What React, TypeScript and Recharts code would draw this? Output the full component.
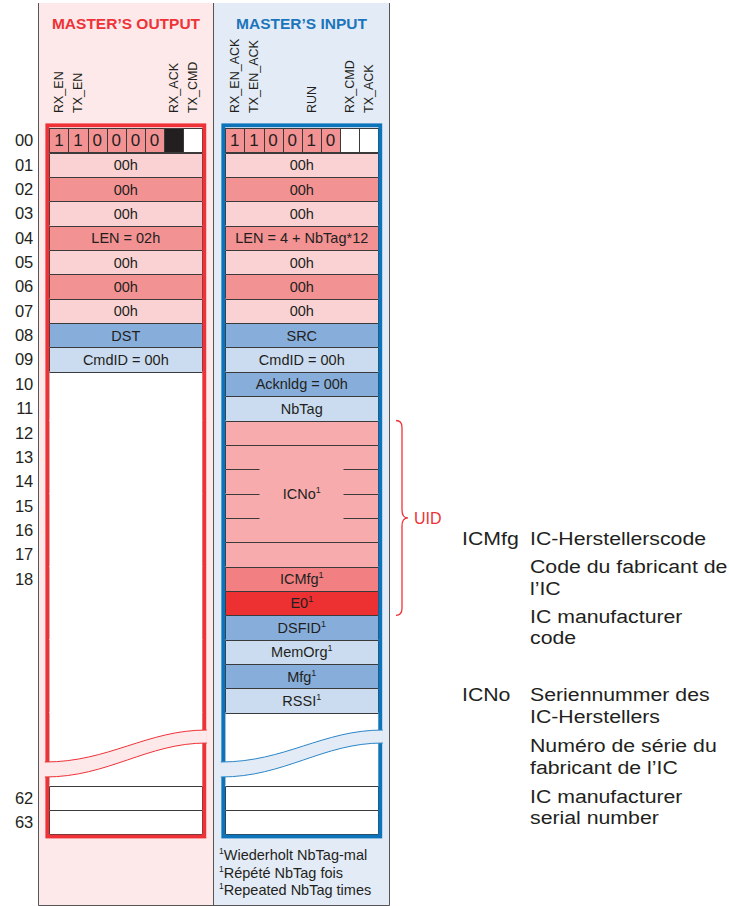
import { Bar, BarChart, XAxis, YAxis } from "recharts";

const FONT = '"Liberation Sans", Arial, Helvetica, sans-serif';
const INK = "#231f20";
const LINE = "#3a3a3a";

// byte rows, three filler rows stand for the break between 23 and 62
const rows = [
  "00", "01", "02", "03", "04", "05", "06", "07", "08", "09",
  "10", "11", "12", "13", "14", "15", "16", "17", "18", "19",
  "20", "21", "22", "23", "g1", "g2", "g3", "62", "63"
];
const shownTicks = [
  "00", "01", "02", "03", "04", "05", "06", "07", "08", "09",
  "10", "11", "12", "13", "14", "15", "16", "17", "18", "62", "63"
];

const outputText = [
  "", "00h", "00h", "00h", "LEN = 02h", "00h", "00h", "00h", "DST", "CmdID = 00h",
  "", "", "", "", "", "", "", "", "", "",
  "", "", "", "", "", "", "", "", ""
];
const outputKind = [
  "bits", "light", "mid", "light", "mid", "light", "mid", "light", "blueMid", "blueLight",
  "blank", "blank", "blank", "blank", "blank", "blank", "blank", "blank", "blank", "blank",
  "blank", "blank", "blank", "blank", "blank", "blank", "blank", "empty", "empty"
];

// ICNo spans rows 13-16, its label sits on the top edge of row 15
const inputText = [
  "", "00h", "00h", "00h", "LEN = 4 + NbTag*12", "00h", "00h", "00h", "SRC", "CmdID = 00h",
  "Acknldg = 00h", "NbTag", "", "", "", "ICNo", "", "", "ICMfg", "E0",
  "DSFID", "MemOrg", "Mfg", "RSSI", "", "", "", "", ""
];
const inputKind = [
  "bits", "light", "mid", "light", "mid", "light", "mid", "light", "blueMid", "blueLight",
  "blueMid", "blueLight", "icno", "icnoMerge", "icnoMerge", "icnoMerge", "icnoMerge", "icno", "icmfg", "e0",
  "blueMid", "blueLight", "blueMid", "blueLight", "blank", "blank", "blank", "empty", "empty"
];
const inputRepeated = [15, 18, 19, 20, 21, 22, 23];

const outputBits = ["1", "1", "0", "0", "0", "0", "", ""];
const outputBitKind = ["mid", "mid", "mid", "mid", "mid", "mid", "black", "empty"];
const outputBitName = ["RX_EN", "TX_EN", "", "", "", "", "RX_ACK", "TX_CMD"];

const inputBits = ["1", "1", "0", "0", "1", "0", "", ""];
const inputBitKind = ["mid", "mid", "mid", "mid", "mid", "mid", "empty", "empty"];
const inputBitName = ["RX_EN_ACK", "TX_EN_ACK", "", "", "RUN", "", "RX_CMD", "TX_ACK"];

const fills: Record<string, string> = {
  light: "#fad2d3",
  mid: "#f39293",
  blueMid: "#87aedb",
  blueLight: "#cbdcf0",
  icno: "#f7abad",
  icnoMerge: "#f7abad",
  icmfg: "#f27f81",
  e0: "#ed3133",
  blank: "#ffffff",
  empty: "#ffffff",
  black: INK
};

const COLUMN = 8;
const GAP = 1.2;
const TOTAL = COLUMN * 2 + GAP;

const W = 729;
const H = 906;
const MARGIN = { top: 128.3, right: 350.7, bottom: 71.5, left: 9.3 };
const Y_WIDTH = 40;
const PLOT_LEFT = MARGIN.left + Y_WIDTH;
const PLOT_W = W - MARGIN.right - PLOT_LEFT;
const UNIT = PLOT_W / TOTAL;
const PLOT_TOP = MARGIN.top;
const PLOT_BOTTOM = H - MARGIN.bottom;
const ROW_H = (PLOT_BOTTOM - PLOT_TOP) / rows.length;

const RED = "#ee3237";
const BLUE = "#0b74bb";

const data = rows.map((row, idx) => {
  const d: Record<string, any> = { row, idx, mid: GAP };
  for (let b = 0; b < 8; b++) {
    d[`o${b}`] = idx === 0 ? 1 : b === 0 ? COLUMN : 0;
    d[`i${b}`] = idx === 0 ? 1 : b === 0 ? COLUMN : 0;
  }
  return d;
});

const snap = (v: number) => Math.round(v) + 0.5;
const boxLike = (k?: string) => !!k && k !== "blank" && k !== "icnoMerge";

function cellShape(side: "o" | "i", bit: number) {
  const kinds = side === "o" ? outputKind : inputKind;
  const texts = side === "o" ? outputText : inputText;
  const bits = side === "o" ? outputBits : inputBits;
  const bitKinds = side === "o" ? outputBitKind : inputBitKind;
  const bitNames = side === "o" ? outputBitName : inputBitName;

  return (props: any) => {
    const { x, y, width, height, payload } = props;
    if (!width || width < 0.5) return <g />;
    const i = payload.idx;
    const x0 = snap(x);
    const x1 = snap(x + width);
    const y0 = snap(y);
    const y1 = snap(y + height);

    if (i === 0) {
      return (
        <g>
          <rect x={x0} y={y0} width={x1 - x0} height={y1 - y0} fill={fills[bitKinds[bit]]} stroke={LINE} strokeWidth={1} />
          {bits[bit] && (
            <text x={x + width / 2} y={y + height / 2 + 6} textAnchor="middle" fontSize={17} fontFamily={FONT} fill={INK}>
              {bits[bit]}
            </text>
          )}
          {bitNames[bit] && (
            <text
              transform={`translate(${x + width / 2 + 4.5}, 113) rotate(-90)`}
              fontSize={12.5}
              fontFamily={FONT}
              fill={INK}
            >
              {bitNames[bit]}
            </text>
          )}
        </g>
      );
    }

    const kind = kinds[i];
    const prev = kinds[i - 1];
    let top = "none";
    if (kind === "icnoMerge" && prev === "icnoMerge") top = "stub";
    else if (boxLike(kind) || kind === "icnoMerge" || boxLike(prev)) top = "full";
    const dotted = kind === "blank";
    const last = i === rows.length - 1;
    const text = texts[i];
    const repeated = side === "i" && inputRepeated.includes(i);
    const textY = kind === "icnoMerge" ? y + 5.5 : y + height / 2 + 5.5;

    return (
      <g>
        <rect x={Math.round(x)} y={Math.round(y)} width={Math.round(x + width) - Math.round(x) + 1} height={Math.round(y + height) - Math.round(y) + 1} fill={fills[kind]} />
        <line x1={x0} x2={x0} y1={y0} y2={y1} stroke={dotted ? "#9a9a9a" : LINE} strokeDasharray={dotted ? "1 1" : undefined} />
        <line x1={x1} x2={x1} y1={y0} y2={y1} stroke={dotted ? "#9a9a9a" : LINE} strokeDasharray={dotted ? "1 1" : undefined} />
        {top === "full" && <line x1={x0} x2={x1} y1={y0} y2={y0} stroke={LINE} />}
        {top === "stub" && (
          <g>
            <line x1={x0} x2={x0 + 34} y1={y0} y2={y0} stroke={LINE} />
            <line x1={x1 - 35} x2={x1} y1={y0} y2={y0} stroke={LINE} />
          </g>
        )}
        {last && <line x1={x0} x2={x1} y1={y1} y2={y1} stroke={LINE} />}
        {text && (
          <text x={x + width / 2} y={textY} textAnchor="middle" fontSize={14.5} fontFamily={FONT} fill={INK}>
            {text}
            {repeated && (
              <tspan fontSize={9} dy={-6}>
                1
              </tspan>
            )}
          </text>
        )}
      </g>
    );
  };
}

const rowTop = (i: number) => PLOT_TOP + i * ROW_H;
const outLeft = PLOT_LEFT;
const outRight = PLOT_LEFT + COLUMN * UNIT;
const inLeft = PLOT_LEFT + (COLUMN + GAP) * UNIT;
const inRight = PLOT_LEFT + TOTAL * UNIT;

function Wave({ left, right, fill, stroke }: { left: number; right: number; fill: string; stroke: string }) {
  const xl = left - 4.5;
  const xr = right + 4.5;
  const upper = `M${xl},762 C${xl + 64},762 ${xr - 60},730 ${xr},730`;
  const lower = `M${xr},743 C${xr - 60},743 ${xl + 64},777 ${xl},777`;
  return (
    <g>
      <path d={`${upper} L${xr},743 C${xr - 60},743 ${xl + 64},777 ${xl},777 Z`} fill={fill} />
      <path d={upper} fill="none" stroke={stroke} strokeWidth={1} />
      <path d={lower} fill="none" stroke={stroke} strokeWidth={1} />
    </g>
  );
}

const legendLines = [
  { x: 462, y: 545, t: "ICMfg" },
  { x: 530, y: 545, t: "IC-Herstellerscode" },
  { x: 530, y: 573, t: "Code du fabricant de" },
  { x: 530, y: 595, t: "l’IC" },
  { x: 530, y: 623, t: "IC manufacturer" },
  { x: 530, y: 644, t: "code" },
  { x: 462, y: 701, t: "ICNo" },
  { x: 530, y: 701, t: "Seriennummer des" },
  { x: 530, y: 723, t: "IC-Herstellers" },
  { x: 530, y: 752, t: "Numéro de série du" },
  { x: 530, y: 774, t: "fabricant de l’IC" },
  { x: 530, y: 803, t: "IC manufacturer" },
  { x: 530, y: 824, t: "serial number" }
];

const footnotes = ["Wiederholt NbTag-mal", "Répété NbTag fois", "Repeated NbTag times"];

export default function App() {
  const braceTop = rowTop(12);
  const braceBottom = rowTop(20);
  const braceMid = (braceTop + braceBottom) / 2;

  return (
    <div style={{ position: "absolute", left: 0, top: 0, width: W, height: H, background: "#fff", overflow: "hidden" }}>
      <svg width={W} height={H} style={{ position: "absolute", left: 0, top: 0 }}>
        <rect x={38.5} y={3} width={175} height={902} fill="#fde9e9" />
        <rect x={213.5} y={3} width={176} height={902} fill="#e3ebf6" />
        <path d="M38.5,3 V905.5 H389.5 V3 M213.5,3 V905.5" fill="none" stroke="#555" strokeWidth={1} />
        <text x={126} y={29} textAnchor="middle" fontWeight="bold" fontSize={15.5} fontFamily={FONT} fill={RED}>
          MASTER’S OUTPUT
        </text>
        <text x={301.5} y={29} textAnchor="middle" fontWeight="bold" fontSize={15.5} fontFamily={FONT} fill="#1b75bc">
          MASTER’S INPUT
        </text>
        {footnotes.map((t, k) => (
          <text key={t} x={219} y={860 + k * 17.5} fontSize={14.5} fontFamily={FONT} fill={INK}>
            <tspan fontSize={8.5} dy={-6}>1</tspan>
            <tspan dy={6}>{t}</tspan>
          </text>
        ))}
        {legendLines.map((l, k) => (
          <text key={k} transform={`translate(${l.x}, ${l.y}) scale(1.12, 1)`} fontSize={19} fontFamily={FONT} fill={INK}>
            {l.t}
          </text>
        ))}
      </svg>

      <div style={{ position: "absolute", left: 0, top: 0 }}>
        <BarChart width={W} height={H} data={data} layout="vertical" margin={MARGIN} barCategoryGap={0} barGap={0}>
          <XAxis type="number" hide domain={[0, TOTAL]} />
          <YAxis
            type="category"
            dataKey="row"
            width={Y_WIDTH}
            interval={0}
            tickLine={false}
            axisLine={false}
            tickSize={0}
            tickMargin={16}
            tick={{ fill: INK, fontSize: 16.5, fontFamily: FONT }}
            tickFormatter={(v: string) => (shownTicks.includes(v) ? v : "")}
          />
          {[0, 1, 2, 3, 4, 5, 6, 7].map((b) => (
            <Bar key={`o${b}`} dataKey={`o${b}`} stackId="s" isAnimationActive={false} shape={cellShape("o", b)} />
          ))}
          <Bar dataKey="mid" stackId="s" isAnimationActive={false} shape={() => <g />} />
          {[0, 1, 2, 3, 4, 5, 6, 7].map((b) => (
            <Bar key={`i${b}`} dataKey={`i${b}`} stackId="s" isAnimationActive={false} shape={cellShape("i", b)} />
          ))}
        </BarChart>
      </div>

      <svg width={W} height={H} style={{ position: "absolute", left: 0, top: 0, pointerEvents: "none" }}>
        <rect x={outLeft - 2} y={PLOT_TOP - 3} width={outRight - outLeft + 4} height={PLOT_BOTTOM - PLOT_TOP + 5} fill="none" stroke={RED} strokeWidth={3.8} />
        <rect x={inLeft - 2} y={PLOT_TOP - 3} width={inRight - inLeft + 4} height={PLOT_BOTTOM - PLOT_TOP + 5} fill="none" stroke={BLUE} strokeWidth={3.8} />
        <Wave left={outLeft} right={outRight} fill="#fde9e9" stroke={RED} />
        <Wave left={inLeft} right={inRight} fill="#e3ebf6" stroke="#2a86c8" />
        <path
          d={`M396,${braceTop} Q402,${braceTop} 402,${braceTop + 7} L402,${braceMid - 8} Q402,${braceMid} 408,${braceMid} Q402,${braceMid} 402,${braceMid + 8} L402,${braceBottom - 7} Q402,${braceBottom} 396,${braceBottom}`}
          fill="none"
          stroke={RED}
          strokeWidth={1.3}
        />
        <text x={414} y={braceMid + 6} fontSize={16} fontFamily={FONT} fill={RED}>
          UID
        </text>
      </svg>
    </div>
  );
}
